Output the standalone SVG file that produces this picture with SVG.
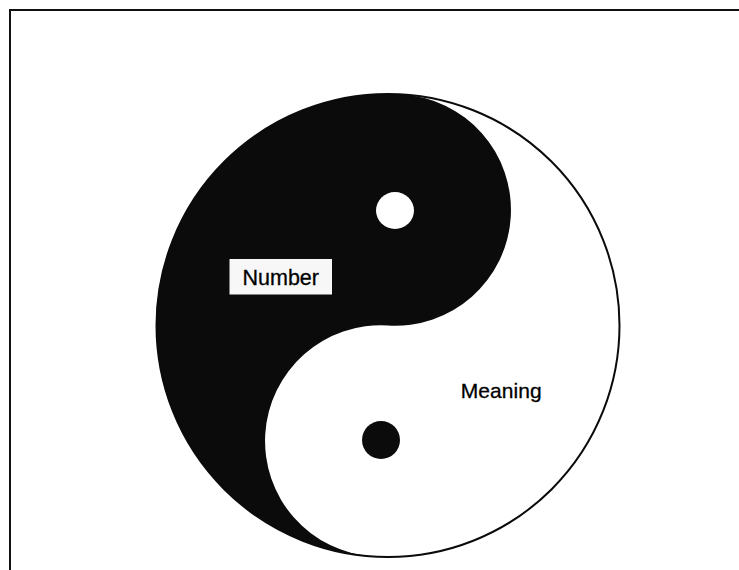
<svg xmlns="http://www.w3.org/2000/svg" width="739" height="570" viewBox="0 0 739 570">
  <style>
    .ink { fill: #0b0b0b; }
    .paper { fill: #ffffff; }
    .outline { fill: none; stroke: #0b0b0b; stroke-width: 2; }
    .label { font-family: "Liberation Sans", Arial, sans-serif; fill: #000000; stroke: #000000; stroke-width: 0.3; }
  </style>
  <rect x="0" y="0" width="739" height="570" fill="#ffffff"/>
  <path d="M10,570 V10 H739" fill="none" stroke="#111111" stroke-width="2"/>
  <g id="yinyang">
    <circle class="paper" cx="388" cy="325.5" r="231.5"/>
    <path class="ink" d="M402.10,94.43 A231.5 231.5 0 1 0 373.90,556.57 A115.75 115.75 0 1 1 388,325.5 A115.75 115.75 0 1 0 402.10,94.43 Z"/>
    <circle class="outline" cx="388" cy="325.5" r="231.5"/>
    <ellipse class="paper" cx="395" cy="210.5" rx="19" ry="18.5"/>
    <circle class="ink" cx="381" cy="440" r="19"/>
  </g>
  <g id="number">
    <rect x="229.5" y="259" width="102.5" height="35.5" fill="#f7f7f7"/>
    <text class="label" x="242.5" y="285" font-size="21.5" textLength="76.5">Number</text>
  </g>
  <g id="meaning">
    <text class="label" x="460.7" y="397.7" font-size="21" textLength="81">Meaning</text>
  </g>
</svg>
